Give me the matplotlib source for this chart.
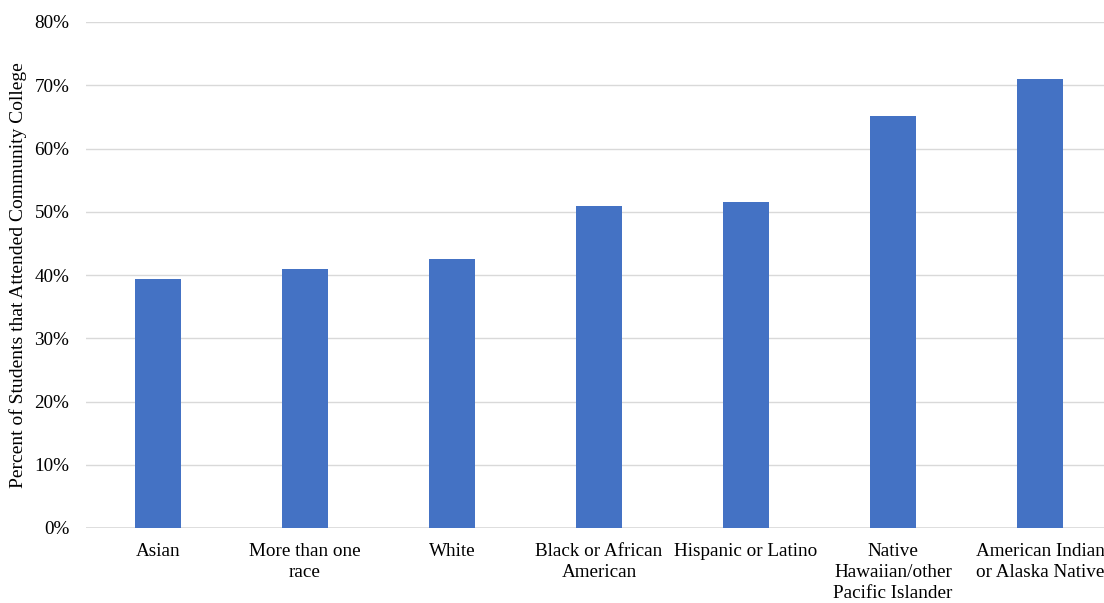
import matplotlib
matplotlib.use("Agg")
import matplotlib.pyplot as plt
from matplotlib.ticker import FuncFormatter

categories = ["Asian", "More than one\nrace", "White", "Black or African\nAmerican",
              "Hispanic or Latino", "Native\nHawaiian/other\nPacific Islander",
              "American Indian\nor Alaska Native"]
values = [39.4, 40.9, 42.6, 50.9, 51.5, 65.2, 71.0]
yticks = [0, 10, 20, 30, 40, 50, 60, 70, 80]

plt.rcParams['font.family'] = ['Liberation Serif', 'DejaVu Serif']

W, H = 1104, 603
fig = plt.figure(figsize=(W/100, H/100), dpi=100)
left, right, top, bottom = 86, 1104, 22, 528
ax = fig.add_axes([left/W, 1 - bottom/H, (right-left)/W, (bottom-top)/H])

x = list(range(len(categories)))
ax.bar(x, values, width=0.31, color="#4472C4", zorder=3)
ax.set_xlim(-0.49, 6.435)
ax.set_ylim(0, 80)
ax.set_yticks(yticks)
ax.yaxis.set_major_formatter(FuncFormatter(lambda v, p: f"{int(v)}%"))
ax.grid(axis='y', color="#D9D9D9", linewidth=1.0, zorder=0)
ax.set_axisbelow(True)
for s in ax.spines.values():
    s.set_visible(False)
ax.axhline(0, color="#D9D9D9", linewidth=1.2, zorder=2)
ax.set_xticks(x)
ax.set_xticklabels(categories, fontsize=13.8, linespacing=1.3)
ax.tick_params(axis='both', length=0, labelsize=13.8, colors="#000000")
ax.tick_params(axis='x', pad=11)
ax.tick_params(axis='y', pad=12)
ax.set_ylabel("Percent of Students that Attended Community College", fontsize=14, labelpad=5)

fig.savefig("out.png", dpi=100)
